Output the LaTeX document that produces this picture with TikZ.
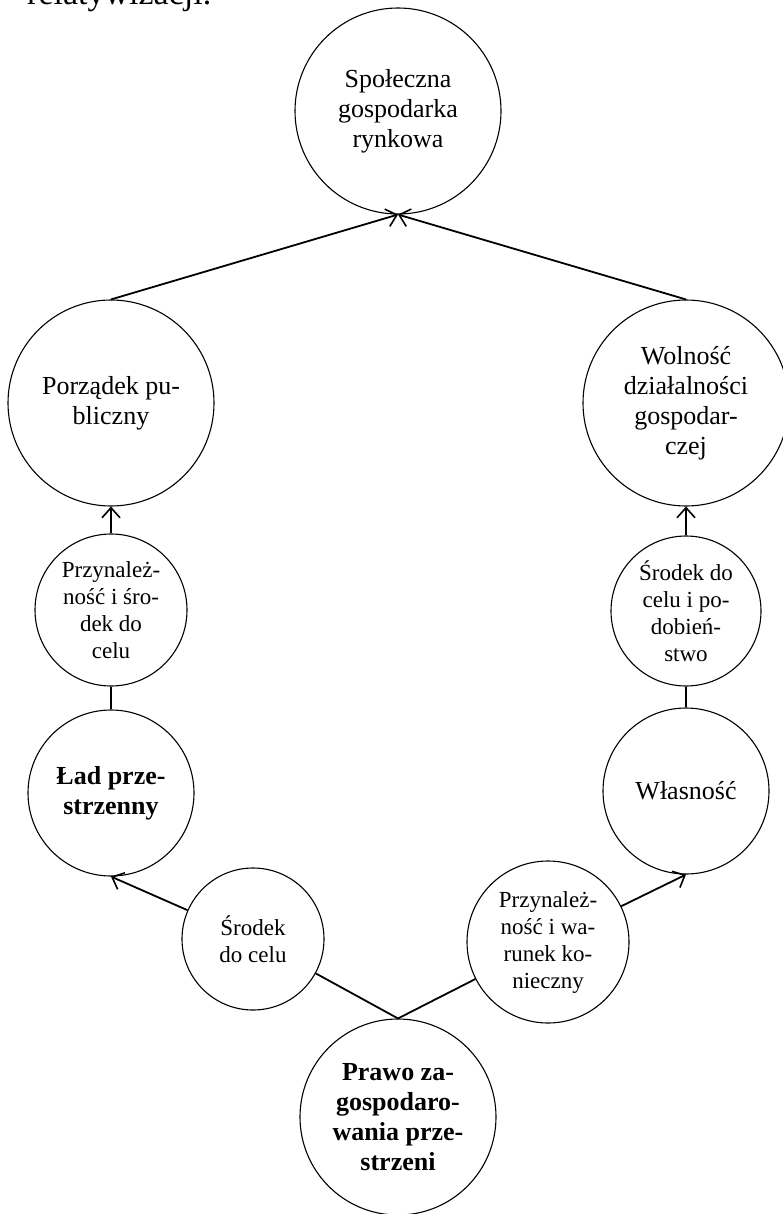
\documentclass[tikz,border=0pt]{standalone}
\usepackage{fontspec}
\setmainfont{Liberation Serif}
\usetikzlibrary{arrows.meta, positioning}

\begin{document}
\begin{tikzpicture}[
  x=1pt, y=1pt,
  big/.style={circle, draw, line width=1.1pt, minimum size=206pt, inner sep=0pt,
    align=center, font=\fontsize{26}{30}\selectfont},
  mid/.style={big, minimum size=166pt},
  small/.style={circle, draw, line width=1.1pt, minimum size=152pt, inner sep=0pt,
    align=center, font=\fontsize{23}{27}\selectfont},
  link/.style={line width=1.8pt},
  arrow/.style={link, -{Straight Barb[length=10pt, width=18pt, line width=1.6pt]}}
]
  \useasboundingbox (0,0) rectangle (783,-1214);

  % tail of the paragraph above
  \node[anchor=base west, inner sep=0pt, font=\fontsize{34}{40}\selectfont] (txt) at (27,-5) {relatywizacji.};

  \node[big] (spol) at (398,-111) {Społeczna\\gospodarka\\rynkowa};
  \node[big] (porz) at (111,-403) {Porządek pu-\\bliczny};
  \node[big] (woln) at (686,-403) {Wolność\\działalności\\gospodar-\\czej};

  \node[small] (przsr) at (111,-610) {Przynależ-\\ność i śro-\\dek do\\celu};
  \node[small, minimum size=150pt] (srpod) at (686,-611) {Środek do\\celu i po-\\dobień-\\stwo};

  \node[mid] (lad) at (111,-793) {\textbf{Ład prze-}\\\textbf{strzenny}};
  \node[mid] (wlas) at (686,-791) {Własność};

  \node[small, minimum size=142pt] (srcel) at (253,-939) {Środek\\do celu};
  \node[small, minimum size=162pt] (przwar) at (548,-942) {Przynależ-\\ność i wa-\\runek ko-\\nieczny};

  \node[big, minimum size=196pt, font=\bfseries\fontsize{26}{30}\selectfont] (prawo) at (398,-1117)
    {Prawo za-\\gospodaro-\\wania prze-\\strzeni};

  % upper level
  \draw[arrow] (porz.north) -- (spol.south);
  \draw[arrow] (woln.north) -- (spol.south);

  % left branch
  \draw[arrow] (przsr.north) -- (porz.south);
  \draw[link] (lad.north) -- (przsr.south);
  \draw[link] (prawo.north) -- (srcel);
  \draw[arrow] (srcel) -- (lad.south);

  % right branch
  \draw[arrow] (srpod.north) -- (woln.south);
  \draw[link] (wlas.north) -- (srpod.south);
  \draw[link] (prawo.north) -- (przwar);
  \draw[arrow] (przwar) -- (wlas.south);
\end{tikzpicture}
\end{document}
